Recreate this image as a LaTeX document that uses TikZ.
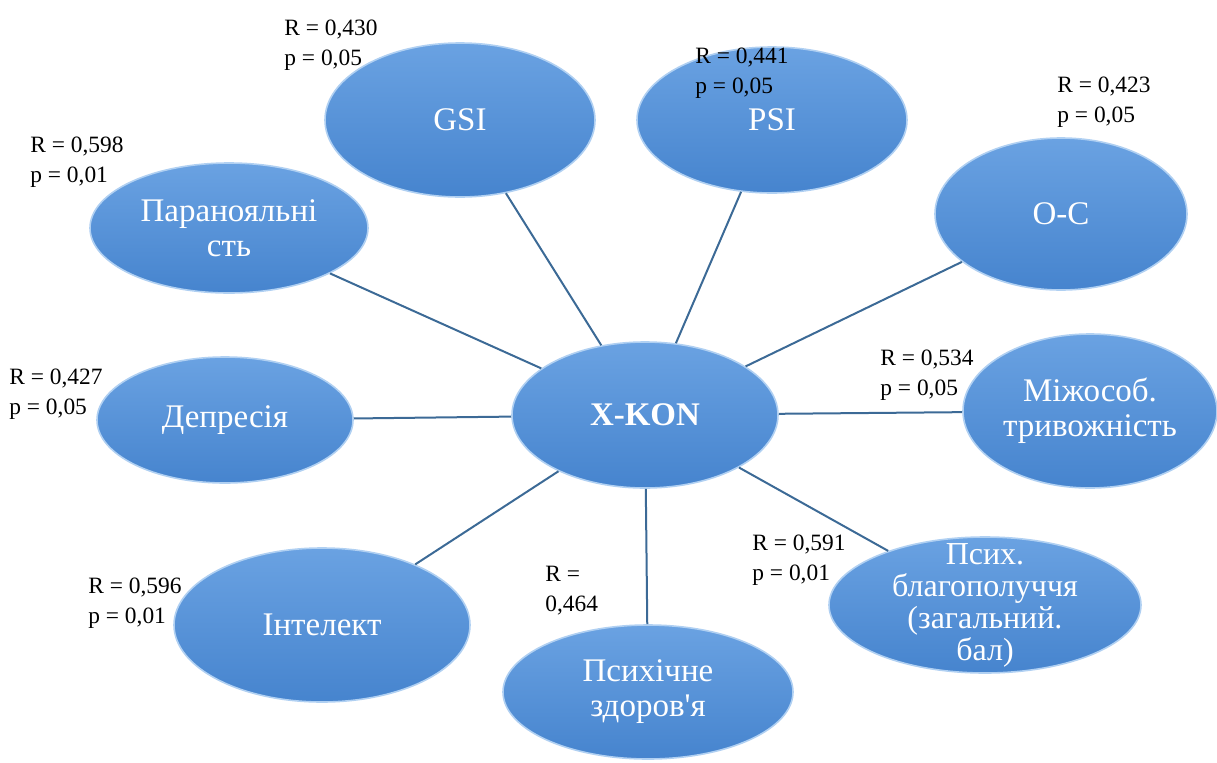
\documentclass[tikz,border=0pt]{standalone}
\usepackage{fontspec}
\setmainfont{Liberation Serif}
\usepackage{tikz}
\usetikzlibrary{shapes.geometric}

\definecolor{bubbletop}{RGB}{106,162,226}
\definecolor{bubblebot}{RGB}{70,132,206}
\definecolor{bubbleedge}{RGB}{176,208,242}
\definecolor{linkblue}{RGB}{60,106,150}

\begin{document}
\begin{tikzpicture}[x=0.5pt, y=-0.5pt,
    bubble/.style={ellipse, inner sep=-8pt, top color=bubbletop, bottom color=bubblebot,
        draw=bubbleedge, line width=0.8pt, text=white, align=center,
        font=\fontsize{16.5}{17.5}\selectfont},
    link/.style={draw=linkblue, line width=1pt},
    stat/.style={anchor=base west, align=left, inner sep=0pt,
        font=\fontsize{11.7}{15}\selectfont}]
    \useasboundingbox (0,0) rectangle (1217,762);

    % centre
    \node[bubble, minimum width=133pt, minimum height=73pt] (hub) at (645,415) {\textbf{X-KON}};

    % outer ring
    \node[bubble, minimum width=135pt, minimum height=77pt] (gsi) at (460,120) {GSI};
    \node[bubble, minimum width=135pt, minimum height=73pt] (psi) at (772,120) {PSI};
    \node[bubble, minimum width=126pt, minimum height=76pt] (oc) at (1061,214) {O-C};
    \node[bubble, minimum width=127pt, minimum height=77pt] (mizh) at (1090,411) {Міжособ.\\тривожність};
    \node[bubble, minimum width=156pt, minimum height=68pt, font=\fontsize{16}{16}\selectfont] (wellb) at (985,605) {Псих.\\благополуччя\\(загальний.\\бал)};
    \node[bubble, minimum width=145pt, minimum height=67pt] (health) at (648,692) {Психічне\\здоров\textquotesingle я};
    \node[bubble, minimum width=148pt, minimum height=77pt] (intel) at (322,625) {Інтелект};
    \node[bubble, minimum width=128pt, minimum height=63pt] (dep) at (225,420) {Депресія};
    \node[bubble, minimum width=139pt, minimum height=65pt] (para) at (229,228) {Паранояльні\\сть};

    % spokes
    \draw[link] (hub) -- (gsi);
    \draw[link] (hub) -- (psi);
    \draw[link] (hub) -- (oc);
    \draw[link] (hub) -- (mizh);
    \draw[link] (hub) -- (wellb);
    \draw[link] (hub) -- (health);
    \draw[link] (hub) -- (intel);
    \draw[link] (hub) -- (dep);
    \draw[link] (hub) -- (para);

    % correlations (placed by the baseline of the lower line)
    \node[stat] (sgsi) at (284,65) {R = 0,430\\p = 0,05};
    \node[stat] (spsi) at (695,93) {R = 0,441\\p = 0,05};
    \node[stat] (soc) at (1057,122) {R = 0,423\\p = 0,05};
    \node[stat] (smizh) at (880,395) {R = 0,534\\p = 0,05};
    \node[stat] (swellb) at (752,580) {R = 0,591\\p = 0,01};
    \node[stat] (shealth) at (545,611) {R =\\0,464};
    \node[stat] (sintel) at (88,623) {R = 0,596\\p = 0,01};
    \node[stat] (sdep) at (9,414) {R = 0,427\\p = 0,05};
    \node[stat] (spara) at (30,182) {R = 0,598\\p = 0,01};
\end{tikzpicture}
\end{document}
